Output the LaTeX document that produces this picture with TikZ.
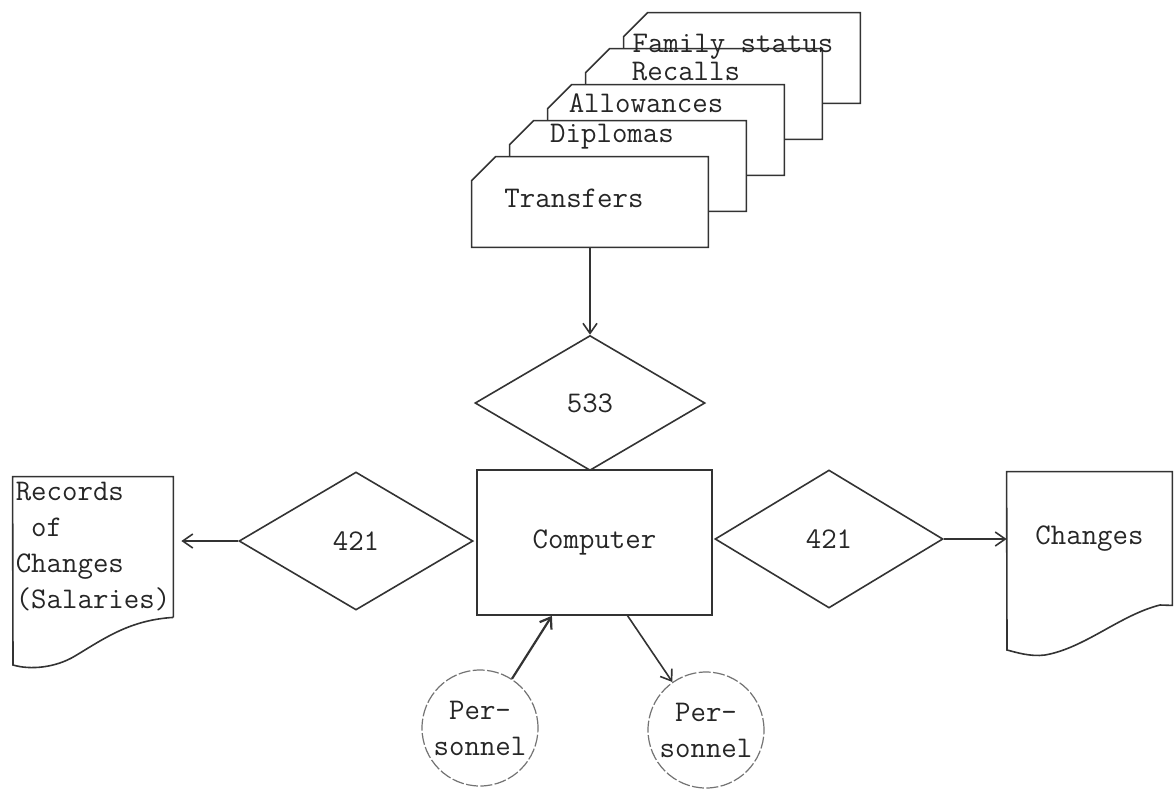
\documentclass[tikz,border=0pt]{standalone}
\usepackage{tikz}
\usetikzlibrary{arrows,arrows.meta}
\tikzset{>={Straight Barb[length=5pt,width=7pt]}}
\usetikzlibrary{shapes,positioning,calc}
\newcommand{\typed}{\fontsize{15}{18}\selectfont\ttfamily}
\tikzset{
  ink/.style={draw=black!80, line width=0.8pt},
  card/.style={rectangle, minimum width=118pt, minimum height=45pt, inner sep=0pt},
  decision/.style={ink, diamond, inner sep=0pt},
  doc/.style={rectangle, inner sep=0pt},
  person/.style={circle, draw=black!55, line width=0.6pt, dash pattern=on 6pt off 1.2pt,
    minimum size=58pt, inner sep=0pt, align=center},
  every node/.style={font=\typed, text=black!85}
}

\begin{document}
\begin{tikzpicture}[x=0.5pt, y=-0.5pt]

  \useasboundingbox (0,0) rectangle (1176,788);

  \node[card] (family) at (742,58) {};
  \node[card] (recalls) at (704,94) {};
  \node[card] (allowances) at (666,130) {};
  \node[card] (diplomas) at (628,166) {};
  \node[card] (transfers) at (590,202) {};

  \foreach \c in {family,recalls,allowances,diplomas,transfers}
    \filldraw[ink, fill=white] (\c.south west) -- ($(\c.north west)+(0,-12pt)$)
      -- ($(\c.north west)+(12pt,0)$) -- (\c.north east) -- (\c.south east) -- cycle;

  \node[anchor=base] (tfamily) at (733,52) {Family status};
  \node[anchor=base] (trecalls) at (686,80) {Recalls};
  \node[anchor=base] (tallowances) at (646,112) {Allowances};
  \node[anchor=base] (tdiplomas) at (612,142) {Diplomas};
  \node[anchor=base] (ttransfers) at (574,207) {Transfers};

  \node[decision, minimum width=115pt, minimum height=67.5pt] (d533) at (590,403) {533};
  \node[ink, rectangle, minimum width=117.5pt, minimum height=72.5pt] (comp) at (594.5,542.5) {Computer};
  \node[decision, minimum width=117pt, minimum height=69pt] (l421) at (356,541) {421};
  \node[decision, minimum width=114pt, minimum height=69pt] (r421) at (829,539) {421};

  \node[doc, minimum width=80pt, minimum height=70pt, align=left] (rec) at (93,547)
    {Records\\\ of\\Changes\\(Salaries)};
  \draw[ink] (rec.south east) -- (rec.north east) -- (rec.north west) -- (13,665)
    .. controls (30,670) and (55,668) .. (75,656)
    .. controls (105,638) and (130,620) .. (rec.south east);

  \node[doc, minimum width=82.5pt, minimum height=66.5pt] (chg) at (1089.5,538.5) {Changes};
  \draw[ink] (chg.north west) -- (chg.north east) -- (chg.south east) -- (1160,605)
    .. controls (1120,615) and (1085,648) .. (1045,655)
    .. controls (1030,657) and (1015,652) .. (1007,650) -- cycle;

  \node[person] (pin) at (480,728) {Per-\\sonnel};
  \node[person] (pout) at (706,730) {Per-\\sonnel};

  \draw[ink, ->] (transfers.south) -- (d533.north);
  \draw[ink, ->, shorten >=4pt] (l421.west) -- (l421.west -| rec.east);
  \draw[ink, ->] (r421.east) -- (r421.east -| chg.west);
  \draw[ink, ->, line width=1.1pt] (pin.57) -- ($(comp.south west)!0.32!(comp.south east)$);
  \draw[ink, ->] ($(comp.south west)!0.64!(comp.south east)$) -- (pout.125);

\end{tikzpicture}
\end{document}
